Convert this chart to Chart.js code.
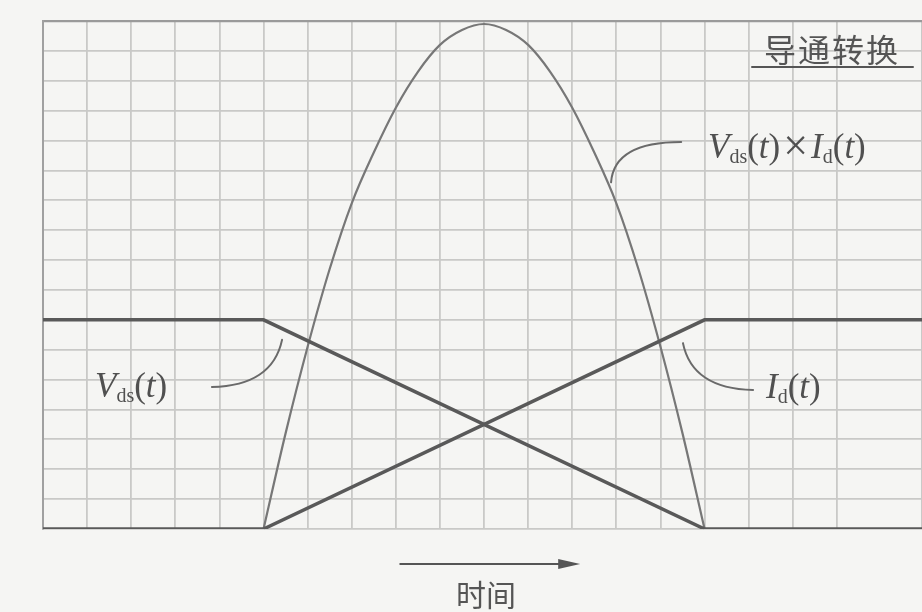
<!DOCTYPE html>
<html>
<head>
<meta charset="utf-8">
<script src="https://cdn.jsdelivr.net/npm/chart.js@4.4.1/dist/chart.umd.min.js"></script>
<style>
  html, body { margin: 0; padding: 0; background: #f5f5f3; }
  #wrap { position: relative; width: 922px; height: 612px; overflow: hidden; }
  #plot { position: absolute; left: 0; top: 0; }
  .lbl { position: absolute; color: #505050; font-family: "Liberation Serif", "DejaVu Serif", serif; font-size: 35px; white-space: nowrap; line-height: 1; }
  .lbl i { font-style: italic; }
  .lbl sub { font-style: normal; font-size: 20px; vertical-align: -5px; }
  .lbl .x { font-size: 44px; margin: 0 3px; vertical-align: -2px; }
  .cn { position: absolute; color: #555; font-family: "Noto Sans CJK SC", sans-serif; font-weight: 400; white-space: nowrap; line-height: 1; }
</style>
</head>
<body>
<div id="wrap">
  <canvas id="plot" width="922" height="612"></canvas>
  <div class="cn" style="left:764px; top:32px; font-size:32px; letter-spacing:2px;">导通转换</div>
  <div class="lbl" style="left:708px; top:124px;"><i>V</i><sub>ds</sub>(<i>t</i>)<span class="x">×</span><i>I</i><sub>d</sub>(<i>t</i>)</div>
  <div class="lbl" style="left:95px; top:368px;"><i>V</i><sub>ds</sub>(<i>t</i>)</div>
  <div class="lbl" style="left:766px; top:369px;"><i>I</i><sub>d</sub>(<i>t</i>)</div>
  <div class="cn" style="left:456px; top:578px; font-size:30px;">时间</div>
</div>
<script>
// time axis runs in grid divisions, the right edge cuts the last cell
const xEnd = 19.93;
const yTop = 17;

// drain-source voltage: flat, linear fall during the transition, flat
const vdsTime = [0, 5, 15, xEnd];
const vdsValues = [7, 7, 0, 0];

// drain current: the mirror ramp
const idTime = [0, 5, 15, xEnd];
const idValues = [0, 0, 7, 7];

// instantaneous power during the turn-on transition
const powerTime = [5, 5.5, 6, 6.5, 7, 7.5, 8, 8.5, 9, 9.5, 10, 10.5, 11, 11.5, 12, 12.5, 13, 13.5, 14, 14.5, 15];
const powerValues = [0, 3.2, 6.1, 8.7, 10.9, 12.6, 14.1, 15.3, 16.2, 16.7, 16.9, 16.7, 16.2, 15.3, 14.1, 12.6, 10.9, 8.7, 6.1, 3.2, 0];

const toPoints = (xs, ys) => xs.map((x, i) => ({ x: x, y: ys[i] }));

// curved leader lines from labels to traces, in data units: start, control, end
const leaders = [
  [[3.83, 4.75], [5.2, 4.8], [5.42, 6.33]],
  [[14.51, 6.22], [14.72, 4.7], [16.1, 4.65]],
  [[12.88, 11.6], [12.95, 12.95], [14.47, 12.95]]
];
// time arrow under the plot
const arrowFrom = [8.1, -1.17];
const arrowTo = [12.18, -1.17];

const annotate = {
  id: 'annotate',
  afterDatasetsDraw(chart) {
    const { ctx, scales: { x, y } } = chart;
    const px = p => [x.getPixelForValue(p[0]), y.getPixelForValue(p[1])];
    ctx.save();
    ctx.strokeStyle = '#6a6a6a';
    ctx.lineWidth = 2;
    ctx.lineCap = 'round';
    leaders.forEach(([a, c, b]) => {
      const [ax, ay] = px(a), [cx, cy] = px(c), [bx, by] = px(b);
      ctx.beginPath();
      ctx.moveTo(ax, ay);
      ctx.quadraticCurveTo(cx, cy, bx, by);
      ctx.stroke();
    });
    // title underline
    ctx.strokeStyle = '#555';
    ctx.lineWidth = 2;
    ctx.beginPath();
    ctx.moveTo(752, 67);
    ctx.lineTo(913, 67);
    ctx.stroke();
    // arrow
    const [sx, sy] = px(arrowFrom), [ex, ey] = px(arrowTo);
    ctx.strokeStyle = '#555';
    ctx.lineWidth = 2;
    ctx.beginPath();
    ctx.moveTo(sx, sy);
    ctx.lineTo(ex - 12, ey);
    ctx.stroke();
    ctx.fillStyle = '#555';
    ctx.beginPath();
    ctx.moveTo(ex, ey);
    ctx.lineTo(ex - 22, ey - 5);
    ctx.lineTo(ex - 22, ey + 5);
    ctx.closePath();
    ctx.fill();
    ctx.restore();
  }
};

new Chart(document.getElementById('plot'), {
  type: 'line',
  data: {
    datasets: [
      {
        label: 'Vds',
        data: toPoints(vdsTime, vdsValues),
        borderColor: '#595959',
        borderWidth: 3.5,
        pointRadius: 0,
        tension: 0
      },
      {
        label: 'Id',
        data: toPoints(idTime, idValues),
        borderColor: '#595959',
        borderWidth: 3.5,
        pointRadius: 0,
        tension: 0
      },
      {
        label: 'Vds x Id',
        data: toPoints(powerTime, powerValues),
        borderColor: '#777777',
        borderWidth: 2.2,
        pointRadius: 0,
        cubicInterpolationMode: 'monotone',
        clip: false
      }
    ]
  },
  options: {
    responsive: false,
    animation: false,
    events: [],
    layout: { padding: { left: 43, right: 0, top: 21, bottom: 83 } },
    plugins: { legend: { display: false }, tooltip: { enabled: false } },
    scales: {
      x: {
        type: 'linear',
        min: 0,
        max: xEnd,
        ticks: { display: false, stepSize: 1 },
        grid: { color: '#c9c9c7', lineWidth: 1.8, drawTicks: false },
        border: { display: false }
      },
      y: {
        type: 'linear',
        min: 0,
        max: yTop,
        ticks: { display: false, stepSize: 1 },
        grid: {
          color: ctx => (ctx.tick && ctx.tick.value === yTop ? '#9a9a9a' : '#c9c9c7'),
          lineWidth: ctx => (ctx.tick && ctx.tick.value === yTop ? 2.2 : 1.8),
          drawTicks: false
        },
        border: { display: true, color: '#a0a0a0', width: 2 }
      }
    }
  },
  plugins: [annotate]
});
</script>
</body>
</html>
